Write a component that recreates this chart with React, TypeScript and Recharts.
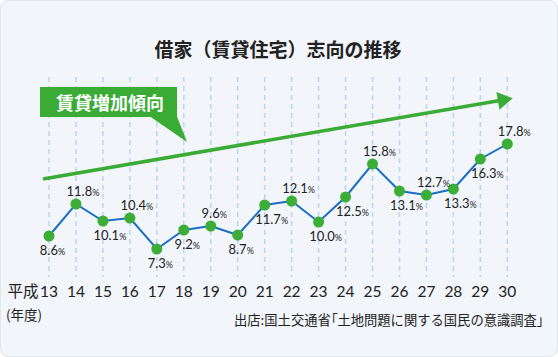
import React from 'react';
import { LineChart, Line, XAxis, YAxis, CartesianGrid, ReferenceLine } from 'recharts';

const years = [13, 14, 15, 16, 17, 18, 19, 20, 21, 22, 23, 24, 25, 26, 27, 28, 29, 30];
const shares = [8.6, 11.8, 10.1, 10.4, 7.3, 9.2, 9.6, 8.7, 11.7, 12.1, 10.0, 12.5, 15.8, 13.1, 12.7, 13.3, 16.3, 17.8];
const labelSides = ['below', 'above', 'below', 'above', 'below', 'below', 'above', 'below', 'below', 'above', 'below', 'below', 'above', 'below', 'above', 'below', 'below', 'above'];
const trendFrom = { x: 12.78, y: 14.3 };
const trendTo = { x: 30.2, y: 22.37 };

const titleText = '借家（賃貸住宅）志向の推移';
const calloutText = '賃貸増加傾向';
const eraText = '平成';
const unitText = '(年度)';
const sourceHead = '出店:国土交通省';
const sourceOpen = '「';
const sourceBody = '土地問題に関する国民の意識調査';
const sourceClose = '」';

const data = years.map((year, i) => ({ year, share: shares[i] }));

const GREEN = '#3aab35';
const DOT_GREEN = '#3cad36';
const BLUE = '#1b6fc3';
const TEXT = '#222222';
const NUM_FONT = 'Lato, "Noto Sans", sans-serif';
const JP_FONT = '"Noto Sans CJK JP", "Noto Sans", sans-serif';
const PALT = { fontFeatureSettings: '"palt" 1' } as React.CSSProperties;

function YearTick(props: any) {
  const { x, y, payload } = props;
  return (
    <text x={x} y={y} dy={20} textAnchor="middle" fontFamily={NUM_FONT} fontSize={15.5} fill={TEXT}>
      {payload.value}
    </text>
  );
}

function ValueLabel(props: any) {
  const { x, y, value, index } = props;
  const txt = Number(value).toFixed(1);
  const above = labelSides[index] === 'above';
  const dx = txt.length >= 4 ? 7 : 3.5;
  return (
    <text
      x={x + dx}
      y={above ? y - 8 : y + 19}
      textAnchor="middle"
      fontFamily={NUM_FONT}
      fontSize={13}
      fill={TEXT}
    >
      {txt}
      <tspan fontSize={9}>%</tspan>
    </text>
  );
}

function TrendArrow(props: any) {
  const { x1, y1, x2, y2 } = props;
  const dx = x2 - x1;
  const dy = y2 - y1;
  const len = Math.hypot(dx, dy) || 1;
  const ux = dx / len;
  const uy = dy / len;
  const headLen = 15;
  const headHalf = 9;
  const bx = x2 - ux * headLen;
  const by = y2 - uy * headLen;
  const px = -uy;
  const py = ux;
  return (
    <g>
      <line x1={x1} y1={y1} x2={bx + ux * 2} y2={by + uy * 2} stroke={GREEN} strokeWidth={3.6} />
      <polygon
        points={`${x2},${y2} ${bx + px * headHalf},${by + py * headHalf} ${bx - px * headHalf},${by - py * headHalf}`}
        fill={GREEN}
      />
    </g>
  );
}

export default function App() {
  return (
    <div style={{ position: 'absolute', left: 0, top: 0, width: 558, height: 357 }}>
      <div
        style={{
          position: 'absolute',
          inset: 0,
          background: '#f2f5fa',
          border: '1px solid #e1e6ec',
          borderRadius: 8,
          boxSizing: 'border-box',
        }}
      />
      <div style={{ position: 'absolute', left: 0, top: 0 }}>
        <LineChart width={558} height={357} data={data} margin={{ top: 77, right: 50.7, bottom: 50, left: 49 }}>
          <CartesianGrid horizontal={false} stroke="#bcd6ee" strokeWidth={1.5} strokeDasharray="5 4" />
          <XAxis
            dataKey="year"
            type="number"
            domain={[13, 30]}
            ticks={years}
            interval={0}
            height={30}
            axisLine={false}
            tickLine={false}
            tickSize={0}
            tickMargin={0}
            tick={<YearTick />}
          />
          <YAxis type="number" domain={[4.5, 24.5]} allowDataOverflow hide />
          <ReferenceLine segment={[trendFrom, trendTo]} ifOverflow="visible" shape={TrendArrow} />
          <Line
            dataKey="share"
            stroke={BLUE}
            strokeWidth={2}
            isAnimationActive={false}
            dot={{ r: 5.5, fill: DOT_GREEN, stroke: 'none', strokeWidth: 0 }}
            activeDot={false}
            label={ValueLabel}
          />
        </LineChart>
      </div>
      <svg
        width={558}
        height={357}
        style={{ position: 'absolute', left: 0, top: 0, pointerEvents: 'none' }}
      >
        <text x={278} y={57} textAnchor="middle" fontFamily={JP_FONT} fontWeight={700} fontSize={19} fill={TEXT}>
          {titleText}
        </text>
        <rect x={40} y={87} width={137} height={30} fill={GREEN} />
        <polygon points="150,116.5 177,116.5 187,142" fill={GREEN} />
        <text x={110} y={109.5} textAnchor="middle" fontFamily={JP_FONT} fontWeight={700} fontSize={18} fill="#ffffff">
          {calloutText}
        </text>
        <text x={7.5} y={297} fontFamily={JP_FONT} fontSize={15.5} fill={TEXT}>
          {eraText}
        </text>
        <text x={6} y={319.5} fontFamily={JP_FONT} fontSize={13.5} fill={TEXT}>
          {unitText}
        </text>
        <text x={234} y={325} fontFamily={JP_FONT} fontSize={13.3} fill={TEXT}>
          {sourceHead}
          <tspan style={PALT}>{sourceOpen}</tspan>
          {sourceBody}
          <tspan style={PALT}>{sourceClose}</tspan>
        </text>
      </svg>
    </div>
  );
}
